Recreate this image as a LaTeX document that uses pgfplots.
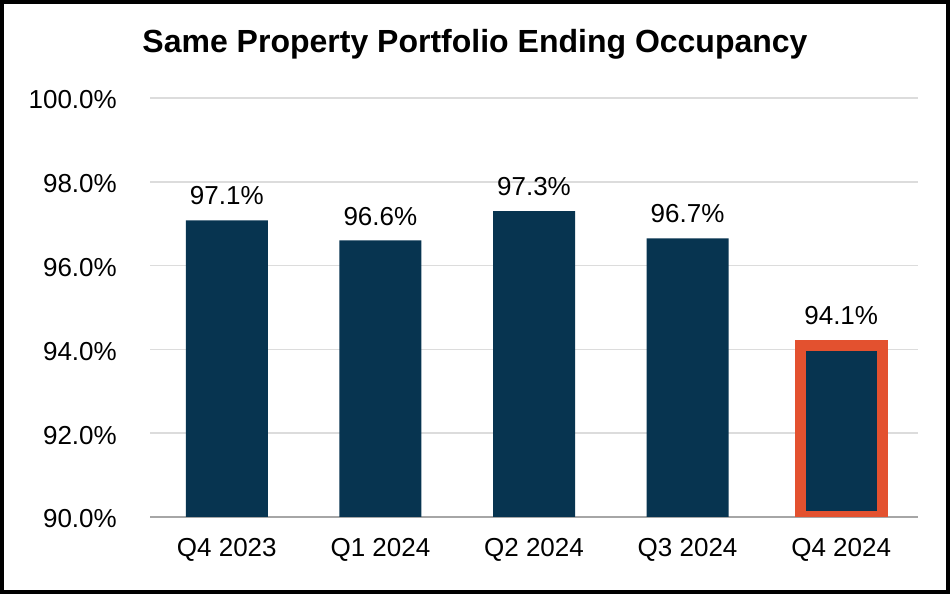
\documentclass[border=0pt]{standalone}
\usepackage{pgfplots}
\pgfplotsset{compat=1.18}
\usepackage{fontspec}
\setmainfont{Liberation Sans}
\definecolor{navy}{HTML}{073450}
\definecolor{hl}{HTML}{E3512F}
\definecolor{gridc}{HTML}{DCDCDC}
\definecolor{axc}{HTML}{A6A6A6}
\begin{document}
\begin{tikzpicture}[x=1pt,y=1pt]
\useasboundingbox (0,0) rectangle (950,594);
\fill[white] (0,0) rectangle (950,594);
\begin{axis}[
  at={(150pt,77pt)}, anchor=south west,
  scale only axis, width=768pt, height=419pt,
  xmin=-0.5, xmax=4.5, ymin=90, ymax=100,
  ytick={90,92,94,96,98,100},
  yticklabels={90.0\%,92.0\%,94.0\%,96.0\%,98.0\%,100.0\%},
  xtick={0,1,2,3,4},
  xticklabels={Q4 2023,Q1 2024,Q2 2024,Q3 2024,Q4 2024},
  /pgf/number format/assume math mode=true,
  major tick length=0pt,
  axis x line*=bottom, axis y line*=left,
  x axis line style={draw=axc, line width=1.5pt, -},
  y axis line style={draw=none},
  ymajorgrids, grid style={draw=gridc, line width=1.5pt},
  tick label style={font=\fontsize{26}{30}\selectfont, inner sep=0pt},
  yticklabel style={anchor=east, xshift=-33pt, yshift=-2pt},
  xticklabel style={anchor=north, yshift=-21pt},
  ybar, bar width=82pt,
  nodes near coords, point meta=explicit symbolic,
  every node near coord/.append style={font=\fontsize{26}{30}\selectfont, anchor=south, inner sep=0pt, yshift=15pt, text=black},
]
\addplot[fill=navy, draw=none, bar shift=0pt] coordinates {
  (0,97.08) [97.1\%]
  (1,96.6) [96.6\%]
  (2,97.3) [97.3\%]
  (3,96.65) [96.7\%]
};
\addplot[fill=navy, draw=hl, line width=11pt, bar shift=0pt] coordinates {
  (4,94.1) [94.1\%]
};
\end{axis}
\node[font=\bfseries\fontsize{32}{37}\selectfont, anchor=base] at (475,541) {Same Property Portfolio Ending Occupancy};
\draw[black, line width=4pt] (2,2) rectangle (948,592);
\end{tikzpicture}
\end{document}
